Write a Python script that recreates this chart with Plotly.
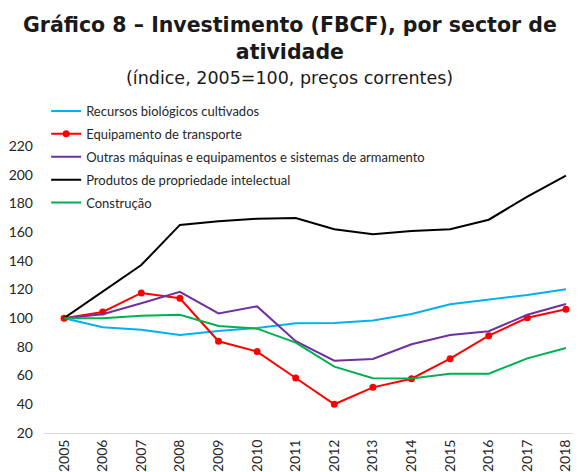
import plotly.graph_objects as go

years = list(range(2005, 2019))

recursos = [100, 93.7, 92.0, 88.3, 91.0, 93.2, 96.4, 96.7, 98.3, 102.9, 109.7, 112.7, 116.2, 120.1]
transporte = [100, 104.3, 117.6, 113.9, 83.9, 76.7, 58.3, 40.0, 51.8, 57.8, 71.8, 87.8, 100.3, 106.2]
outras = [100, 102.7, 110.4, 118.3, 103.3, 108.2, 84.0, 70.4, 71.6, 81.8, 88.3, 90.9, 102.4, 109.9]
propriedade = [100, 118.3, 137.0, 165.0, 167.5, 169.3, 169.8, 162.0, 158.5, 160.8, 162.0, 168.6, 184.7, 199.3]
construcao = [100, 99.9, 101.7, 102.4, 94.6, 92.7, 83.0, 66.2, 58.1, 57.9, 61.3, 61.3, 72.0, 79.2]

series = [
    ("Recursos biológicos cultivados", recursos, "#00B0F0", False),
    ("Equipamento de transporte", transporte, "#FF0000", True),
    ("Outras máquinas e equipamentos e sistemas de armamento", outras, "#7030A0", False),
    ("Produtos de propriedade intelectual", propriedade, "#000000", False),
    ("Construção", construcao, "#00B050", False),
]

fig = go.Figure()
for i, (name, vals, color, markers) in enumerate(series):
    fig.add_trace(go.Scatter(
        x=years, y=vals, name=name, legendgroup=str(i),
        mode="lines+markers" if markers else "lines",
        line=dict(color=color, width=2),
        marker=dict(size=7, color=color),
    ))

# page body has an 8px margin, so everything is shifted up/left by 8px
fig.update_layout(
    width=581, height=472,
    margin=dict(l=36, r=8, t=92, b=47),
    paper_bgcolor="white", plot_bgcolor="white",
    font=dict(family="Lato", size=14, color="#262626"),
    legend=dict(x=0.004, y=1.012, xanchor="left", yanchor="top",
                bgcolor="rgba(0,0,0,0)", itemwidth=30, tracegroupgap=3,
                font=dict(family="Lato", size=13, color="#262626")),
    showlegend=True,
)
fig.add_annotation(text="<b>Gráfico 8 – Investimento (FBCF), por sector de<br>atividade</b>",
                   xref="paper", yref="paper", x=0.458, y=1.1847, showarrow=False,
                   xanchor="center", yanchor="middle",
                   font=dict(family="DejaVu Sans", size=20.5, color="#1a1a1a"))
fig.add_annotation(text="(índice, 2005=100, preços correntes)", xref="paper", yref="paper",
                   x=0.458, y=1.066, showarrow=False, xanchor="center", yanchor="middle",
                   font=dict(family="DejaVu Sans", size=17.5, color="#1a1a1a"))

fig.update_xaxes(range=[2004.48, 2018.39], tickvals=years, ticktext=[str(y) for y in years],
                 tickangle=-90, showgrid=False, zeroline=False, showline=True,
                 linecolor="#d9d9d9", linewidth=1, ticks="", automargin=False)
fig.update_yaxes(range=[20, 252], tickvals=list(range(20, 221, 20)), showgrid=False,
                 zeroline=False, showline=False, ticks="", ticklabelstandoff=10,
                 automargin=False)

fig.write_html("out.html")
